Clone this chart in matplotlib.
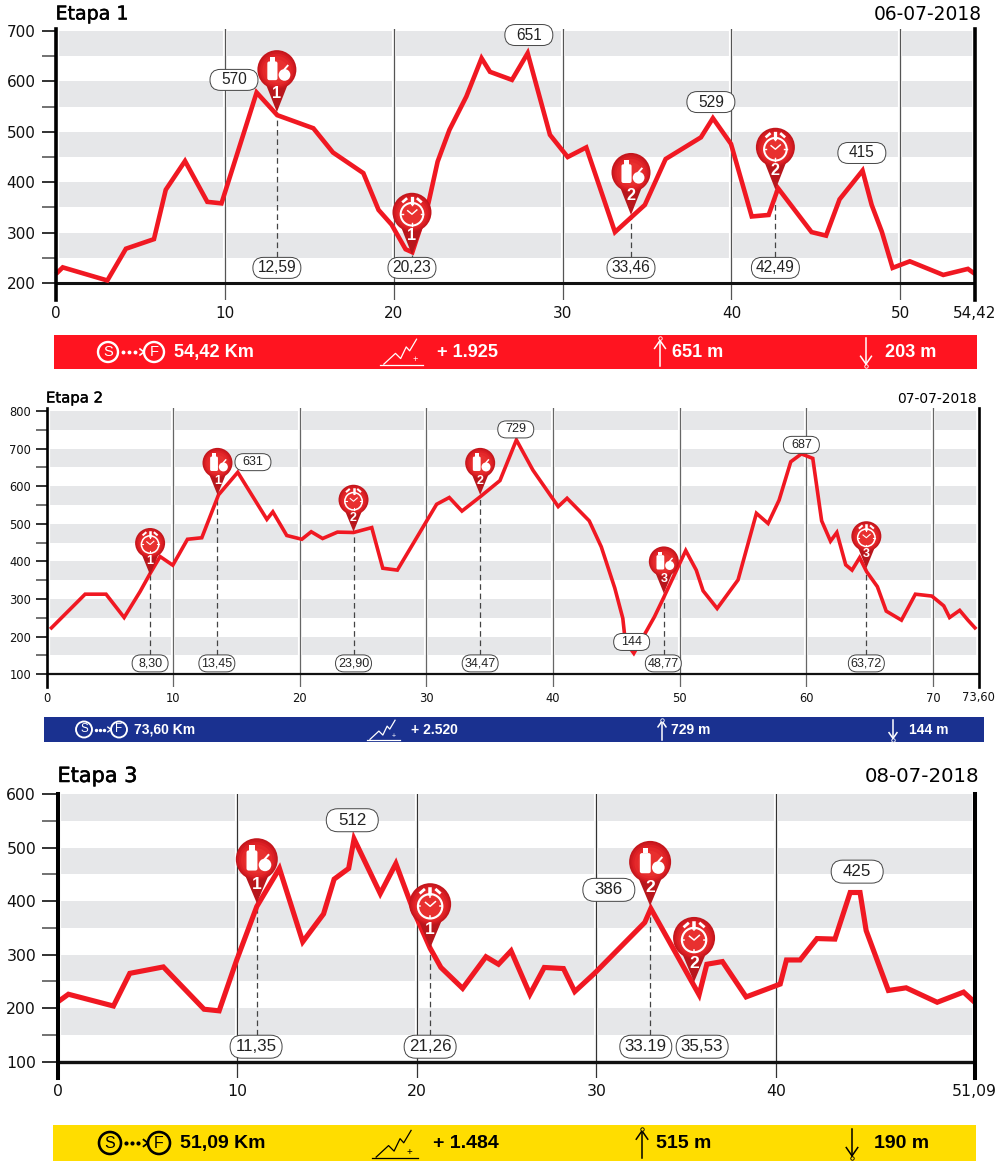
import numpy as np
import matplotlib
matplotlib.use('Agg')
import matplotlib.pyplot as plt
import matplotlib.patheffects as pe
from matplotlib.patches import Circle, Polygon, FancyBboxPatch, Rectangle

# Stage 1
s1_km = [0, 0.4, 3.04, 4.14, 5.8, 6.5, 7.64, 8.96, 9.8, 11.88, 13.1, 15.24, 16.4, 18.2, 19.1, 19.87, 20.7, 21.1,
         22.05, 22.6, 23.3, 24.3, 25.2, 25.7, 27.0, 27.93, 29.25, 30.3, 31.4, 33.1, 34.87, 36.1, 38.19, 38.9, 39.97,
         41.2, 42.2, 42.76, 44.74, 45.6, 46.4, 47.76, 48.3, 48.9, 49.54, 50.56, 52.54, 54.0, 54.42]
s1_alt = [218, 231, 205, 268, 287, 385, 442, 361, 358, 578, 533, 507, 459, 418, 345, 316, 267, 261,
          358, 441, 504, 570, 646, 619, 603, 656, 494, 450, 469, 301, 355, 446, 489, 527, 476,
          332, 335, 388, 301, 294, 366, 423, 355, 302, 230, 243, 216, 228, 218]
s1_pin_km = [13.08, 21.08, 34.05, 42.6]
s1_pin_alt = [539, 256, 335, 385]
s1_pin_kind = ['food', 'watch', 'food', 'watch']
s1_pin_num = ['1', '1', '2', '2']
s1_tag_km = [13.08, 21.08, 34.05, 42.6]
s1_tag_text = ['12,59', '20,23', '33,46', '42,49']
s1_peak_km = [10.54, 28.0, 38.78, 47.72]
s1_peak_alt = [603, 692, 559, 458]
s1_peak_text = ['570', '651', '529', '415']

# Stage 2
s2_km = [0.29, 3.05, 4.7, 6.13, 7.39, 8.18, 8.97, 9.97, 11.13, 12.26, 13.58, 15.1, 17.4, 17.87, 18.97, 20.16, 20.9,
         21.8, 22.97, 24.24, 25.68, 26.55, 27.7, 30.8, 31.8, 32.8, 34.24, 35.8, 37.1, 38.4, 40.4, 41.1, 42.85, 43.8,
         44.87, 45.5, 45.7, 46.37, 47.2, 48.0, 48.7, 50.47, 51.3, 51.84, 52.95, 54.6, 56.05, 56.97, 57.84, 58.76,
         59.6, 60.5, 61.2, 61.9, 62.4, 63.1, 63.6, 64.2, 64.75, 65.6, 66.3, 67.5, 68.6, 69.9, 70.84, 71.3, 72.1,
         72.75, 73.4]
s2_alt = [220, 313, 313, 251, 320, 368, 413, 390, 459, 463, 577, 637, 512, 532, 469, 459, 479,
          461, 478, 477, 490, 382, 377, 552, 570, 534, 572, 615, 723, 643, 546, 568, 508, 439,
          329, 249, 187, 156, 205, 253, 302, 429, 377, 322, 275, 351, 528, 501, 563, 665,
          686, 674, 508, 454, 477, 391, 377, 410, 373, 333, 268, 244, 313, 308, 282, 251, 270,
          244, 220]
s2_pin_km = [8.18, 13.5, 24.24, 34.24, 48.74, 64.73]
s2_pin_alt = [364, 577, 479, 577, 315, 382]
s2_pin_kind = ['watch', 'food', 'watch', 'food', 'food', 'watch']
s2_pin_num = ['1', '1', '2', '2', '3', '3']
s2_tag_km = [8.18, 13.45, 24.24, 34.24, 48.7, 64.73]
s2_tag_text = ['8,30', '13,45', '23,90', '34,47', '48,77', '63,72']
s2_peak_km = [16.3, 37.05, 59.6, 46.2]
s2_peak_alt = [664, 751, 710, 186]
s2_peak_text = ['631', '729', '687', '144']

# Stage 3
s3_km = [0, 0.58, 3.09, 4.0, 5.87, 8.14, 8.98, 9.96, 11.08, 12.34, 13.64, 14.8, 15.39, 16.2, 16.5, 17.96, 18.83,
         19.8, 20.74, 21.34, 22.55, 23.85, 24.55, 25.25, 26.3, 27.1, 28.17, 28.8, 29.9, 32.7, 33.04, 35.73, 36.16,
         37.03, 38.35, 40.25, 40.6, 41.36, 42.3, 43.3, 44.15, 44.7, 45.04, 46.28, 47.27, 49.0, 50.47, 51.09]
s3_alt = [212, 226, 204, 265, 277, 198, 195, 290, 390, 461, 324, 376, 441, 461, 516, 414, 470,
          383, 312, 276, 237, 296, 282, 307, 226, 276, 274, 231, 265, 360, 386, 225, 282,
          287, 221, 245, 290, 290, 330, 329, 416, 416, 345, 233, 238, 211, 230, 211]
s3_pin_km = [11.08, 20.74, 33.0, 35.45]
s3_pin_alt = [396, 312, 391, 249]
s3_pin_kind = ['food', 'watch', 'food', 'watch']
s3_pin_num = ['1', '1', '2', '2']
s3_tag_km = [11.04, 20.74, 32.76, 35.9]
s3_tag_text = ['11,35', '21,26', '33.19', '35,53']
s3_peak_km = [16.4, 30.7, 44.54]
s3_peak_alt = [551, 421, 455]
s3_peak_text = ['512', '386', '425']

FIG_W, FIG_H = 1000, 1166
RED = '#F01822'
BAND = '#E6E7E9'
TICK_FONT = 'DejaVu Sans'
BAR_FONT = 'Liberation Sans'

panels = [
    dict(title='Etapa 1', date='06-07-2018', km=s1_km, alt=s1_alt, km_end=54.42, end_label='54,42',
         ymin=200, ymax=700, left=56, right=975, y_min_px=283, y_max_px=31, top_px=29, bottom_px=300,
         ticks=[0, 10, 20, 30, 40, 50], lw=3.3, spine=2.6, base=2.2, grid='#555555', tick_fs=11, tick_len=10,
         title_fs=13.7, title_y=14, date_fs=13.4, date_x=982, date_y=15, xlab_y=314, ylab_pad=4.8,
         pin_km=s1_pin_km, pin_alt=s1_pin_alt, pin_kind=s1_pin_kind, pin_num=s1_pin_num, pin_r=19.5, pin_h=62,
         dash_to=251, dash_pins=[0, 1, 2, 3], tag_km=s1_tag_km, tag_text=s1_tag_text, tag_alt=230,
         peak_km=s1_peak_km, peak_alt=s1_peak_alt, peak_text=s1_peak_text, pill_w=48, pill_h=21, pill_fs=11.2,
         bar=(54, 977, 335, 369), bar_color='#FF1420', ink='white', bar_fs=13.1, icon_r=10,
         s_x=108, f_x=154, dist='54,42 Km', dist_x=174, gain='+ 1.925', gain_x=437, gain_icon=(380, 423, 365),
         up_x=660, up='651 m', up_tx=672, down_x=866, down='203 m', down_tx=885),
    dict(title='Etapa 2', date='07-07-2018', km=s2_km, alt=s2_alt, km_end=73.6, end_label='73,60',
         ymin=100, ymax=800, left=46.5, right=978.7, y_min_px=674.3, y_max_px=411, top_px=407.7, bottom_px=686.7,
         ticks=[0, 10, 20, 30, 40, 50, 60, 70], lw=2.6, spine=1.9, base=1.6, grid='#666666', tick_fs=8.3, tick_len=8,
         title_fs=10.7, title_y=398, date_fs=9.9, date_x=977, date_y=399, xlab_y=698, ylab_pad=3,
         pin_km=s2_pin_km, pin_alt=s2_pin_alt, pin_kind=s2_pin_kind, pin_num=s2_pin_num, pin_r=15, pin_h=47,
         dash_to=150, dash_pins=[0, 1, 2, 3, 4, 5], tag_km=s2_tag_km, tag_text=s2_tag_text, tag_alt=129,
         peak_km=s2_peak_km, peak_alt=s2_peak_alt, peak_text=s2_peak_text, pill_w=36, pill_h=17, pill_fs=9,
         bar=(44, 984, 717, 742), bar_color='#1A3190', ink='white', bar_fs=10, icon_r=8,
         s_x=84, f_x=119, dist='73,60 Km', dist_x=134, gain='+ 2.520', gain_x=411, gain_icon=(367, 400, 740),
         up_x=662, up='729 m', up_tx=671, down_x=893, down='144 m', down_tx=909),
    dict(title='Etapa 3', date='08-07-2018', km=s3_km, alt=s3_alt, km_end=51.09, end_label='51,09',
         ymin=100, ymax=600, left=58, right=974.7, y_min_px=1061.7, y_max_px=794, top_px=794, bottom_px=1078,
         ticks=[0, 10, 20, 30, 40], lw=3.7, spine=2.9, base=2.4, grid='#333333', tick_fs=11.3, tick_len=11.5,
         title_fs=15, title_y=776, date_fs=14.2, date_x=979, date_y=777, xlab_y=1092, ylab_pad=4.3,
         pin_km=s3_pin_km, pin_alt=s3_pin_alt, pin_kind=s3_pin_kind, pin_num=s3_pin_num, pin_r=21, pin_h=65,
         dash_to=150, dash_pins=[0, 1, 2], tag_km=s3_tag_km, tag_text=s3_tag_text, tag_alt=128,
         peak_km=s3_peak_km, peak_alt=s3_peak_alt, peak_text=s3_peak_text, pill_w=52, pill_h=23, pill_fs=12.2,
         bar=(53, 976, 1125, 1161), bar_color='#FFDD00', ink='black', bar_fs=14, icon_r=11,
         s_x=110, f_x=159, dist='51,09 Km', dist_x=180, gain='+ 1.484', gain_x=433, gain_icon=(372, 418, 1158),
         up_x=642, up='515 m', up_tx=656, down_x=852, down='190 m', down_tx=874),
]

fig = plt.figure(figsize=(FIG_W / 100, FIG_H / 100), dpi=100)

# overlay in reference pixels, used for pins, pills and the info bars
ov = fig.add_axes([0, 0, 1, 1], zorder=10)
ov.set_xlim(0, FIG_W)
ov.set_ylim(FIG_H, 0)
ov.set_axis_off()
ov.patch.set_alpha(0)


def to_px(ax, km, alt):
    dx, dy = ax.transData.transform((km, alt))
    return dx, FIG_H - dy


def pill(x, y, w, h, text, fs):
    ov.add_patch(FancyBboxPatch((x - w / 2, y - h / 2), w, h, boxstyle=f'round,pad=0,rounding_size={h / 2}',
                                fc='white', ec='#444444', lw=0.7, zorder=5))
    ov.text(x, y, text, ha='center', va='center', fontsize=fs, family=BAR_FONT, color='#222222', zorder=6)


def draw_food(cx, cy, r, z):
    ov.add_patch(FancyBboxPatch((cx - 0.49 * r, cy - 0.42 * r), 0.52 * r, 0.96 * r,
                                boxstyle=f'round,pad=0,rounding_size={0.1 * r}', fc='white', ec='none', zorder=z))
    ov.add_patch(Rectangle((cx - 0.36 * r, cy - 0.66 * r), 0.27 * r, 0.26 * r, fc='white', ec='none', zorder=z))
    ov.add_patch(Circle((cx + 0.39 * r, cy + 0.27 * r), 0.3 * r, fc='white', ec='none', zorder=z))
    ov.plot([cx + 0.4 * r, cx + 0.55 * r], [cy - 0.03 * r, cy - 0.2 * r], color='white', lw=r * 0.07, zorder=z)


def draw_watch(cx, cy, r, z):
    lw = r * 0.075
    wy = cy + 0.1 * r
    ov.add_patch(Circle((cx, wy), 0.58 * r, fc='none', ec='white', lw=lw, zorder=z))
    ov.plot([cx - 0.22 * r, cx, cx + 0.25 * r], [wy - 0.18 * r, wy, wy - 0.22 * r], color='white', lw=lw * 0.7, zorder=z)
    ov.plot([cx, cx], [cy - 0.48 * r, cy - 0.72 * r], color='white', lw=lw * 1.6, zorder=z)
    ov.plot([cx - 0.45 * r, cx - 0.3 * r], [cy - 0.55 * r, cy - 0.68 * r], color='white', lw=lw * 1.3, zorder=z)
    ov.plot([cx + 0.45 * r, cx + 0.3 * r], [cy - 0.55 * r, cy - 0.68 * r], color='white', lw=lw * 1.3, zorder=z)
    for a in [0, 90, 180, 270]:
        c, s = np.cos(np.radians(a)), np.sin(np.radians(a))
        ov.plot([cx + 0.46 * r * c, cx + 0.58 * r * c], [wy + 0.46 * r * s, wy + 0.58 * r * s],
                color='white', lw=lw * 0.7, zorder=z)


def draw_pin(x, y, r, h, kind, num, base_z=7):
    cy = y - h + r
    ov.add_patch(Polygon([(x - 0.55 * r, cy + 0.78 * r), (x + 0.55 * r, cy + 0.78 * r), (x, y)],
                         fc='#B8161C', ec='none', zorder=base_z))
    fracs = [1.0, 0.93, 0.85, 0.75, 0.6]
    cols = ['#C4161C', '#D01A20', '#DC2025', '#E4282A', '#E8302F']
    for frac, col in zip(fracs, cols):
        ov.add_patch(Circle((x, cy + (1 - frac) * r * 0.2), frac * r, fc=col, ec='none', zorder=base_z + 0.1))
    if kind == 'food':
        draw_food(x, cy, r, base_z + 0.2)
    else:
        draw_watch(x, cy, r, base_z + 0.2)
    ov.text(x, cy + 1.2 * r, num, ha='center', va='center', fontsize=0.6 * r, family=BAR_FONT, weight='bold',
            color='white', zorder=base_z + 0.3)


def draw_bar(p):
    x0, x1, y0, y1 = p['bar']
    ink = p['ink']
    fs = p['bar_fs']
    ym = (y0 + y1) / 2
    r = p['icon_r']
    ov.add_patch(Rectangle((x0, y0), x1 - x0, y1 - y0, fc=p['bar_color'], ec='none', zorder=1))
    for cx, letter in [(p['s_x'], 'S'), (p['f_x'], 'F')]:
        ov.add_patch(Circle((cx, ym), r, fc='none', ec=ink, lw=r * 0.17, zorder=2))
        ov.text(cx, ym, letter, ha='center', va='center', fontsize=r * 1.05, family=BAR_FONT, color=ink, zorder=3)
    # dotted arrow between the S and F circles
    gap = p['f_x'] - p['s_x'] - 2 * r
    dots_x = [p['s_x'] + r + gap * t for t in (0.2, 0.42, 0.64)]
    ov.plot(dots_x, [ym] * 3, ls='none', marker='o', ms=r * 0.18, color=ink, zorder=3)
    tip = p['f_x'] - r
    ov.plot([tip - r * 0.4, tip, tip - r * 0.4], [ym - r * 0.3, ym, ym + r * 0.3], color=ink, lw=r * 0.12, zorder=3)
    ov.text(p['dist_x'], ym + 0.5, p['dist'], ha='left', va='center', fontsize=fs, family=BAR_FONT, weight='bold',
            color=ink, zorder=3)
    # gain icon
    g0, g1, gy = p['gain_icon']
    w = g1 - g0
    ov.plot([g0, g1], [gy, gy], color=ink, lw=0.9, zorder=3)
    zig_x = [0.09, 0.36, 0.48, 0.61, 0.69, 0.85]
    zig_y = [0.02, 0.27, 0.15, 0.42, 0.33, 0.6]
    ov.plot([g0 + w * v for v in zig_x], [gy - w * v for v in zig_y], color=ink, lw=0.9, zorder=3)
    ov.text(g0 + w * 0.82, gy - w * 0.12, '+', ha='center', va='center', fontsize=fs * 0.5, family=BAR_FONT,
            color=ink, zorder=3)
    ov.text(p['gain_x'], ym + 0.5, p['gain'], ha='left', va='center', fontsize=fs, family=BAR_FONT, weight='bold',
            color=ink, zorder=3)
    # up and down arrows
    ah = (y1 - y0) * 0.42
    top, bot = y0 + (y1 - y0) * 0.1, y1 - (y1 - y0) * 0.08
    ux = p['up_x']
    ov.plot([ux, ux], [top, bot], color=ink, lw=1.1, zorder=3)
    ov.plot([ux - ah * 0.38, ux, ux + ah * 0.38], [top + ah * 0.7, top + ah * 0.15, top + ah * 0.7], color=ink, lw=1.1,
            zorder=3)
    ov.plot([ux], [top], marker='o', ms=2.5, mfc=p['bar_color'], mec=ink, mew=0.6, zorder=3)
    ov.text(p['up_tx'], ym + 0.5, p['up'], ha='left', va='center', fontsize=fs, family=BAR_FONT, weight='bold',
            color=ink, zorder=3)
    dx = p['down_x']
    ov.plot([dx, dx], [top, bot], color=ink, lw=1.1, zorder=3)
    ov.plot([dx - ah * 0.38, dx, dx + ah * 0.38], [bot - ah * 0.7, bot - ah * 0.15, bot - ah * 0.7], color=ink, lw=1.1,
            zorder=3)
    ov.plot([dx], [bot], marker='o', ms=2.5, mfc=p['bar_color'], mec=ink, mew=0.6, zorder=3)
    ov.text(p['down_tx'], ym + 0.5, p['down'], ha='left', va='center', fontsize=fs, family=BAR_FONT, weight='bold',
            color=ink, zorder=3)


for p in panels:
    per_px = (p['ymax'] - p['ymin']) / (p['y_min_px'] - p['y_max_px'])
    ylim_low = p['ymin'] - (p['bottom_px'] - p['y_min_px']) * per_px
    ylim_top = p['ymax'] + (p['y_max_px'] - p['top_px']) * per_px

    ax = fig.add_axes([p['left'] / FIG_W, 1 - p['bottom_px'] / FIG_H,
                       (p['right'] - p['left']) / FIG_W, (p['bottom_px'] - p['top_px']) / FIG_H])
    ax.set_xlim(0, p['km_end'])
    ax.set_ylim(ylim_low, ylim_top)
    ax.patch.set_alpha(0)

    # grey bands every other 50 m, from the top down
    for high in np.arange(p['ymax'], p['ymin'], -100):
        ax.axhspan(high - 50, high, color=BAND, lw=0, zorder=1)

    # white halo round vertical lines, as in the original
    for t in p['ticks'][1:]:
        ax.axvline(t, color='white', lw=3, zorder=1.5)
        ax.axvline(t, color=p['grid'], lw=0.9, zorder=2)
    ax.axvline(0, color='white', lw=4.5, zorder=1.5)
    ax.axvline(p['km_end'], color='white', lw=4, zorder=1.5)

    ax.axhline(p['ymin'], color='#111111', lw=p['base'], zorder=3)
    ax.plot(p['km'], p['alt'], color=RED, lw=p['lw'], solid_joinstyle='miter', solid_capstyle='butt', clip_on=False,
            zorder=5)

    for i in p['dash_pins']:
        ax.plot([p['pin_km'][i]] * 2, [p['dash_to'], p['pin_alt'][i]], color='#444444', lw=0.9, ls=(0, (4.5, 3)),
                zorder=2.5)

    ax.spines['top'].set_visible(False)
    ax.spines['bottom'].set_visible(False)
    ax.spines['left'].set_linewidth(p['spine'])
    ax.spines['right'].set_linewidth(p['spine'])
    ax.spines['left'].set_zorder(6)
    ax.spines['right'].set_zorder(6)

    ax.set_yticks(np.arange(p['ymin'], p['ymax'] + 1, 100))
    ax.set_yticks(np.arange(p['ymin'] + 50, p['ymax'], 100), minor=True)
    ax.tick_params(axis='y', which='major', length=p['tick_len'], width=1.3, pad=p['ylab_pad'],
                   labelsize=p['tick_fs'], color='#222222', labelcolor='#111111')
    ax.tick_params(axis='y', which='minor', length=p['tick_len'], width=1.3, color='#666666')
    ax.set_xticks(p['ticks'] + [p['km_end']])
    ax.set_xticklabels([])
    ax.tick_params(axis='x', length=0)
    for lab in ax.get_yticklabels():
        lab.set_family(TICK_FONT)

    # x labels sit at a set pixel height, the spines run on below the axis
    for t, lab in zip(p['ticks'] + [p['km_end']], [str(v) for v in p['ticks']] + [p['end_label']]):
        px, _ = to_px(ax, t, p['ymin'])
        ov.text(px, p['xlab_y'], lab, ha='center', va='center', fontsize=p['tick_fs'], family=TICK_FONT,
                color='#111111')

    title = ov.text(p['left'] - 0.5, p['title_y'], p['title'], ha='left', va='center', fontsize=p['title_fs'],
                    family=TICK_FONT, color='black')
    title.set_path_effects([pe.withStroke(linewidth=p['title_fs'] * 0.025, foreground='black')])
    ov.text(p['date_x'], p['date_y'], p['date'], ha='right', va='center', fontsize=p['date_fs'],
            family=TICK_FONT, color='black')

    for km, txt in zip(p['tag_km'], p['tag_text']):
        x, y = to_px(ax, km, p['tag_alt'])
        pill(x, y, p['pill_w'], p['pill_h'], txt, p['pill_fs'])
    for km, alt, txt in zip(p['peak_km'], p['peak_alt'], p['peak_text']):
        x, y = to_px(ax, km, alt)
        pill(x, y, p['pill_w'], p['pill_h'], txt, p['pill_fs'])
    for km, alt, kind, num in zip(p['pin_km'], p['pin_alt'], p['pin_kind'], p['pin_num']):
        x, y = to_px(ax, km, alt)
        draw_pin(x, y, p['pin_r'], p['pin_h'], kind, num)

    draw_bar(p)

ov.set_xlim(0, FIG_W)
ov.set_ylim(FIG_H, 0)
fig.savefig('out.png', dpi=100)
